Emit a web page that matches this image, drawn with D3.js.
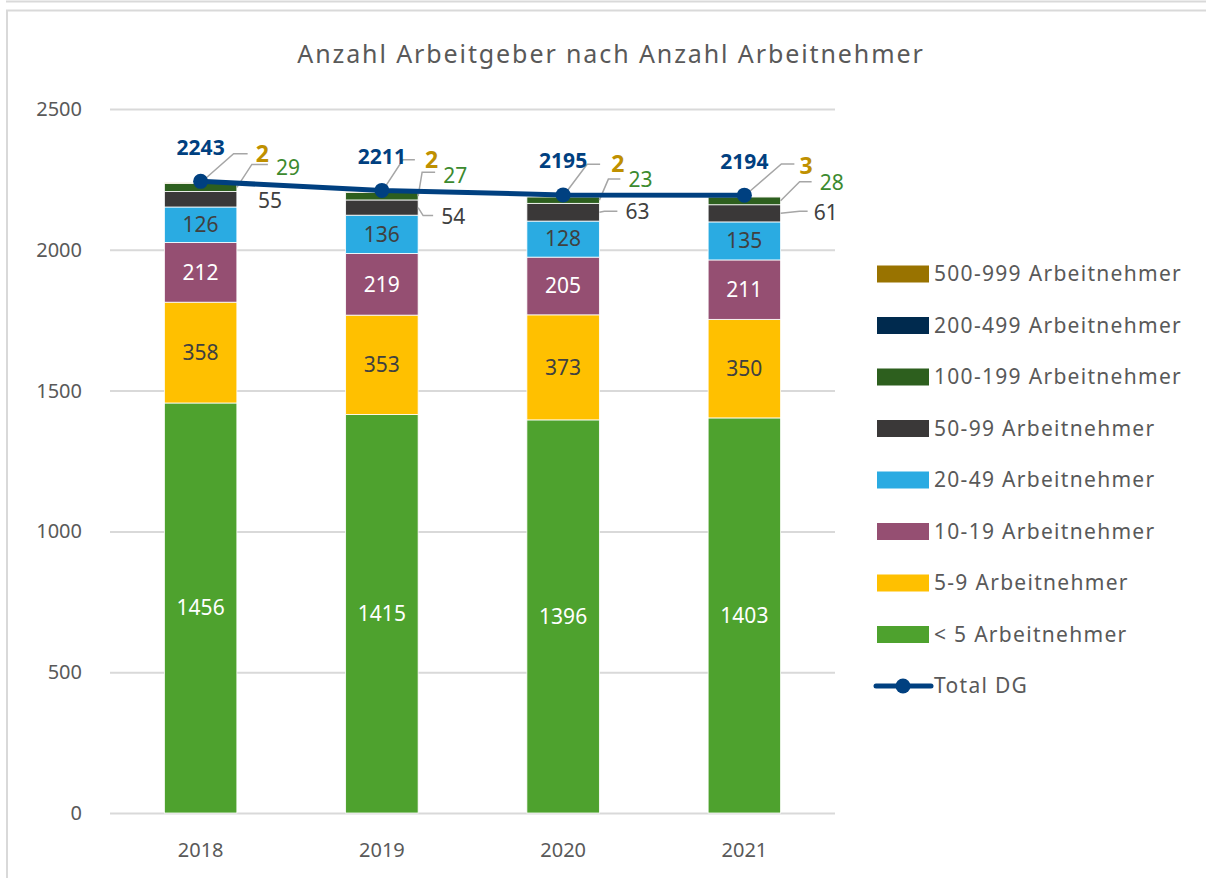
<!DOCTYPE html>
<html lang="de">
<head>
<meta charset="UTF-8">
<title>Anzahl Arbeitgeber</title>
<style>
    body { margin: 0; background: #fff; }
    svg { display: block; font-family: "Noto Sans", sans-serif; }
</style>
</head>
<body>
<svg width="1206" height="878"></svg>
<script src="https://cdn.jsdelivr.net/npm/d3@7.8.5/dist/d3.min.js"></script>
<script>
    // data
    const years = ['2018', '2019', '2020', '2021']
    const seriesNames = ['< 5 Arbeitnehmer', '5-9 Arbeitnehmer', '10-19 Arbeitnehmer', '20-49 Arbeitnehmer',
        '50-99 Arbeitnehmer', '100-199 Arbeitnehmer', '200-499 Arbeitnehmer', '500-999 Arbeitnehmer']
    const lt5 = [1456, 1415, 1396, 1403]
    const s5to9 = [358, 353, 373, 350]
    const s10to19 = [212, 219, 205, 211]
    const s20to49 = [126, 136, 128, 135]
    const s50to99 = [55, 54, 63, 61]
    const s100to199 = [29, 27, 23, 28]
    const s200to499 = [0, 0, 0, 0]
    const s500to999 = [2, 2, 2, 3]
    const totalDG = [2243, 2211, 2195, 2194]
    const yTicks = [0, 500, 1000, 1500, 2000, 2500]

    const seriesValues = [lt5, s5to9, s10to19, s20to49, s50to99, s100to199, s200to499, s500to999]
    const colors = ['#4ea22e', '#ffc000', '#954f72', '#2aabe2', '#3a3838', '#2d5f1e', '#002a4e', '#997300']
    const insideText = ['#ffffff', '#404040', '#ffffff', '#404040']

    const svg = d3.select('svg')

    // frame like the original screenshot
    svg.append('line').attr('x1', 6).attr('x2', 1206).attr('y1', 1.5).attr('y2', 1.5)
        .attr('stroke', '#d9d9d9').attr('stroke-width', 2)
    svg.append('path').attr('d', 'M7,878 V10.5 H1206')
        .attr('fill', 'none').attr('stroke', '#d9d9d9').attr('stroke-width', 2)

    const x = d3.scaleBand().domain(years).range([110, 835]).paddingInner(0.6).paddingOuter(0.3)
    const y = d3.scaleLinear().domain([0, 2500]).range([813, 109])

    svg.append('text')
        .attr('x', 611).attr('y', 63)
        .attr('text-anchor', 'middle')
        .attr('fill', '#595959')
        .attr('font-size', 25)
        .attr('letter-spacing', 1.9)
        .text('Anzahl Arbeitgeber nach Anzahl Arbeitnehmer')

    // gridlines + y labels
    const yAxis = svg.append('g')
        .attr('transform', 'translate(110,0)')
        .call(d3.axisLeft(y).tickValues(yTicks).tickFormat(d3.format('d')).tickSize(-725).tickPadding(28))
    yAxis.select('.domain').remove()
    yAxis.selectAll('.tick line').attr('stroke', '#d9d9d9').attr('stroke-width', 2)
    yAxis.selectAll('.tick text').attr('fill', '#595959').attr('font-size', 20)
        .attr('font-family', '"Noto Sans", sans-serif')

    const xAxis = svg.append('g')
        .attr('transform', 'translate(0,813)')
        .call(d3.axisBottom(x).tickSize(0).tickPadding(30))
    xAxis.select('.domain').remove()
    xAxis.selectAll('.tick text').attr('fill', '#595959').attr('font-size', 20)
        .attr('font-family', '"Noto Sans", sans-serif')

    // stacked bars
    const table = years.map((yr, i) => {
        const row = { year: yr }
        seriesNames.forEach((s, k) => row[s] = seriesValues[k][i])
        return row
    })
    const stacked = d3.stack().keys(seriesNames)(table)

    const bars = svg.append('g')
    stacked.forEach((layer, k) => {
        bars.append('g')
            .attr('fill', colors[k])
            .selectAll('rect')
            .data(layer)
            .join('rect')
            .attr('x', d => x(d.data.year))
            .attr('y', d => y(d[1]))
            .attr('width', x.bandwidth())
            .attr('height', d => y(d[0]) - y(d[1]))
            .attr('stroke', d => d[1] > d[0] ? '#ffffff' : 'none')
            .attr('stroke-width', 0.8)
    })

    // labels inside bars (lower four series)
    stacked.slice(0, 4).forEach((layer, k) => {
        svg.append('g').selectAll('text')
            .data(layer)
            .join('text')
            .attr('x', d => x(d.data.year) + x.bandwidth() / 2)
            .attr('y', d => y((d[0] + d[1]) / 2))
            .attr('dy', '0.35em')
            .attr('text-anchor', 'middle')
            .attr('font-size', 21)
            .attr('fill', insideText[k])
            .text(d => d[1] - d[0])
    })

    // callout labels for the thin top segments: [elbow dx, elbow dy, horiz len, label dx, label dy]
    const callouts = [
        { k: 7, color: '#bf9000', bold: true, anchor: 'top', pos: [[33, -29, 14, 55, -29], [21, -32, 12, 43, -32], [24, -32, 13, 48, -32], [37, -32, 13, 55, -30]] },
        { k: 5, color: '#3c8a2e', bold: false, anchor: 'right', pos: [[15, -23, 16, 39, -20], [4, -24, 13, 25, -21], [9, -21, 12, 29, -20], [19, -19, 12, 39, -18]] },
        { k: 4, color: '#404040', bold: false, anchor: 'right', pos: [null, [5, 8, 10, 23, 9], [5, -1, 13, 26, -1], [19, -2, 8, 33, -1]] }
    ]
    const calloutG = svg.append('g')
    callouts.forEach(c => {
        stacked[c.k].forEach((d, i) => {
            const ax = c.anchor === 'top' ? x(d.data.year) + x.bandwidth() / 2 : x(d.data.year) + x.bandwidth()
            const ay = c.anchor === 'top' ? y(d[1]) : y((d[0] + d[1]) / 2)
            const p = c.pos[i]
            if (p) {
                calloutG.append('path')
                    .attr('d', `M${ax},${ay} L${ax + p[0]},${ay + p[1]} h${p[2]}`)
                    .attr('fill', 'none').attr('stroke', '#a6a6a6').attr('stroke-width', 1.5)
            }
            const lp = p || [0, 0, 0, 21, 1]
            calloutG.append('text')
                .attr('x', ax + lp[3])
                .attr('y', ay + lp[4])
                .attr('dy', '0.35em')
                .attr('font-size', c.bold ? 23 : 21)
                .attr('font-weight', c.bold ? 'bold' : 'normal')
                .attr('fill', c.color)
                .text(d[1] - d[0])
        })
    })

    // total line
    const line = d3.line()
        .x((d, i) => x(years[i]) + x.bandwidth() / 2)
        .y(d => y(d))
    svg.append('path')
        .datum(totalDG)
        .attr('d', line)
        .attr('fill', 'none')
        .attr('stroke', '#004080')
        .attr('stroke-width', 5)
    svg.append('g').selectAll('circle')
        .data(totalDG)
        .join('circle')
        .attr('cx', (d, i) => x(years[i]) + x.bandwidth() / 2)
        .attr('cy', d => y(d))
        .attr('r', 7.5)
        .attr('fill', '#004080')
    svg.append('g').selectAll('text')
        .data(totalDG)
        .join('text')
        .attr('x', (d, i) => x(years[i]) + x.bandwidth() / 2)
        .attr('y', d => y(d) - 34)
        .attr('dy', '0.35em')
        .attr('text-anchor', 'middle')
        .attr('font-size', 21)
        .attr('font-weight', 'bold')
        .attr('fill', '#004080')
        .text(d => d)

    // legend
    const legendItems = seriesNames.map((s, k) => ({ name: s, color: colors[k], type: 'rect' })).reverse()
    legendItems.push({ name: 'Total DG', color: '#004080', type: 'line' })
    const legend = svg.append('g').attr('transform', 'translate(877,274)')
    legendItems.forEach((item, i) => {
        const g = legend.append('g').attr('transform', `translate(0,${i * 51.5})`)
        if (item.type === 'rect') {
            g.append('rect').attr('x', 0).attr('y', -8.5).attr('width', 52).attr('height', 17).attr('fill', item.color)
        } else {
            g.append('line').attr('x1', -1).attr('x2', 54).attr('y1', 0).attr('y2', 0)
                .attr('stroke', item.color).attr('stroke-width', 5).attr('stroke-linecap', 'round')
            g.append('circle').attr('cx', 26).attr('cy', 0).attr('r', 7.5).attr('fill', item.color)
        }
        g.append('text')
            .attr('x', 57).attr('y', 0).attr('dy', '0.35em')
            .attr('font-size', 21)
            .attr('letter-spacing', 1.3)
            .attr('fill', '#595959')
            .text(item.name)
    })
</script>
</body>
</html>
